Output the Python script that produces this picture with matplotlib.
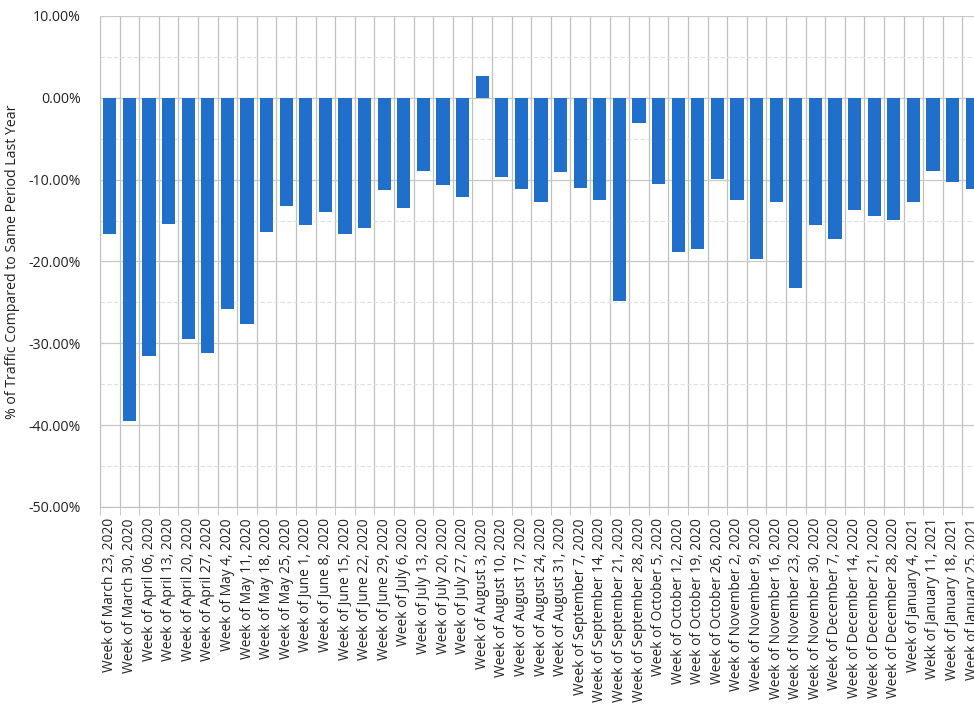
import matplotlib.pyplot as plt
from matplotlib.ticker import FuncFormatter, MultipleLocator

# week labels (as printed on the chart, typo included)
weeks = [
    "Week of March 23, 2020", "Week of March 30, 2020", "Week of April 06, 2020",
    "Week of April 13, 2020", "Week of April 20, 2020", "Week of April 27, 2020",
    "Week of May 4, 2020", "Week of May 11, 2020", "Week of May 18, 2020",
    "Week of May 25, 2020", "Week of June 1, 2020", "Week of June 8, 2020",
    "Week of June 15, 2020", "Week of June 22, 2020", "Week of June 29, 2020",
    "Week of July 6, 2020", "Week of July 13, 2020", "Week of July 20, 2020",
    "Week of July 27, 2020", "Week of August 3, 2020", "Week of August 10, 2020",
    "Week of August 17, 2020", "Week of August 24, 2020", "Week of August 31, 2020",
    "Week of September 7, 2020", "Week of September 14, 2020",
    "Week of September 21, 2020", "Week of September 28, 2020",
    "Week of October 5, 2020", "Week of October 12, 2020", "Week of October 19, 2020",
    "Week of October 26, 2020", "Week of November 2, 2020", "Week of November 9, 2020",
    "Week of November 16, 2020", "Week of November 23, 2020",
    "Week of November 30, 2020", "Week of December 7, 2020",
    "Week of December 14, 2020", "Week of December 21, 2020",
    "Week of December 28, 2020", "Week of January 4, 2021", "Wekk of January 11, 2021",
    "Week of January 18, 2021", "Week of January 25, 2021",
]

# % change vs same period last year
traffic_change = [
    -16.7, -39.5, -31.6, -15.4, -29.5, -31.2, -25.8, -27.6, -16.4, -13.2,
    -15.5, -13.9, -16.6, -15.9, -11.3, -13.5, -9.0, -10.6, -12.1, 2.6,
    -9.7, -11.1, -12.7, -9.1, -11.0, -12.5, -24.8, -3.1, -10.5, -18.9,
    -18.5, -9.9, -12.5, -19.7, -12.7, -23.3, -15.5, -17.3, -13.7, -14.4,
    -14.9, -12.7, -8.9, -10.3, -11.1,
]

plt.rcParams['font.family'] = ['Open Sans', 'DejaVu Sans']

fig = plt.figure(figsize=(9.74, 7.15), dpi=100)
# right edge runs past the figure: the original chart is cropped there
ax = fig.add_axes([0.1027, 0.291, 0.9055, 0.6867])

x = range(len(weeks))
ax.bar(x, traffic_change, width=0.68, color='#1f6fcb', zorder=3)

ax.set_xlim(-0.5, len(weeks) - 0.5)
ax.set_ylim(-50, 10)

# y axis: percent labels, major grid every 10, minor every 5
ax.yaxis.set_major_locator(MultipleLocator(10))
ax.yaxis.set_minor_locator(MultipleLocator(5))
ax.yaxis.set_major_formatter(FuncFormatter(lambda v, p: f"{v:.2f}%"))
ax.grid(axis='y', which='major', color='#c8c8c8', linewidth=0.9, zorder=0)
ax.grid(axis='y', which='minor', color='#e0e0e0', linewidth=0.8, linestyle=(0, (4, 2)), zorder=0)
ax.tick_params(axis='y', which='both', length=0, labelsize=10.2, pad=14, colors='#222222')

# x axis: labels at bar centres, grid + ticks at category boundaries
ax.set_xticks(list(x))
ax.set_xticklabels(weeks, rotation=90, fontsize=9.9, color='#222222')
ax.set_xticks([i + 0.5 for i in range(-1, len(weeks))], minor=True)
ax.grid(axis='x', which='minor', color='#c0c0c0', linewidth=0.9, zorder=0)
ax.tick_params(axis='x', which='major', length=0, pad=8)
ax.tick_params(axis='x', which='minor', length=6, color='#c0c0c0')

for side in ['top', 'right']:
    ax.spines[side].set_visible(False)
for side in ['left', 'bottom']:
    ax.spines[side].set_color('#c0c0c0')

ax.set_ylabel("% of Traffic Compared to Same Period Last Year", fontsize=10.2,
              color='#222222', labelpad=6)

fig.savefig("out.png", dpi=100)
